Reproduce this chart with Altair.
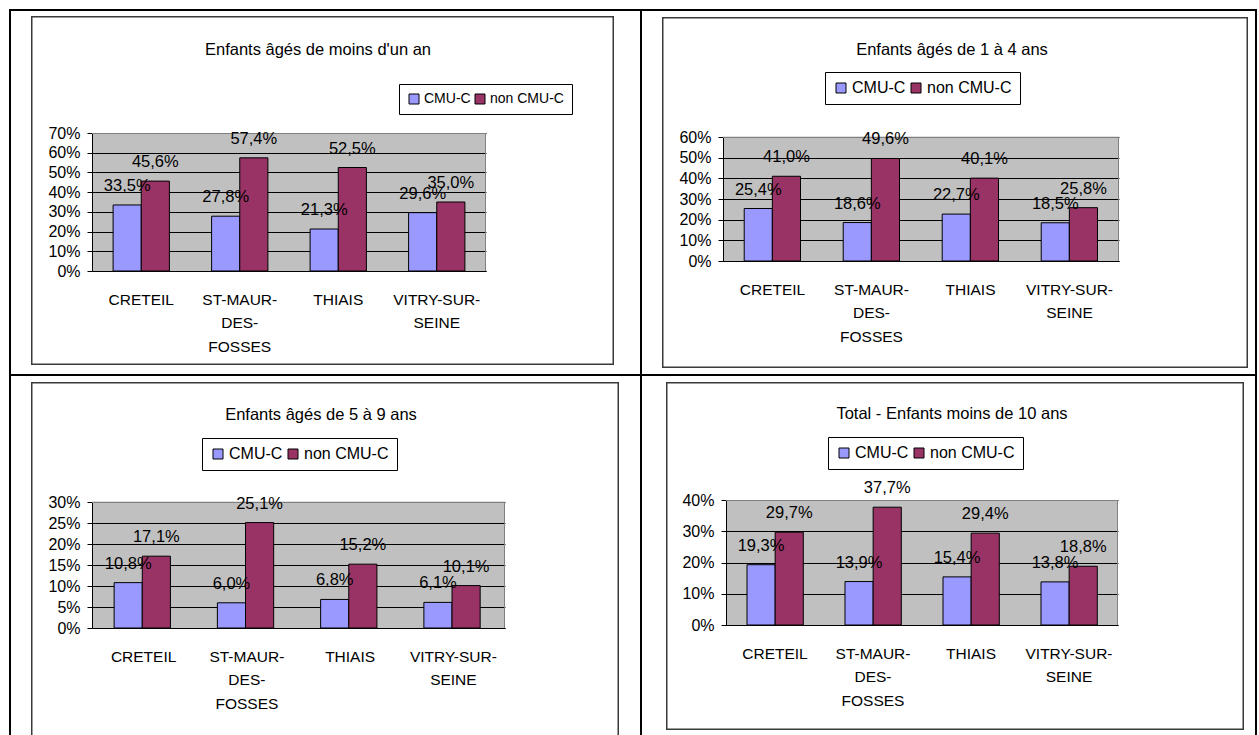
import altair as alt
import pandas as pd

FONT = "Liberation Sans"

# Communes and how their names wrap under the axis
categories = ["CRETEIL", "ST-MAUR-DES-FOSSES", "THIAIS", "VITRY-SUR-SEINE"]
category_lines = [["CRETEIL"], ["ST-MAUR-", "DES-", "FOSSES"], ["THIAIS"], ["VITRY-SUR-", "SEINE"]]

series = ["CMU-C", "non CMU-C"]
series_colors = ["#9999FF", "#993366"]

titles = [
    "Enfants âgés de moins d'un an",
    "Enfants âgés de 1 à 4 ans",
    "Enfants âgés de 5 à 9 ans",
    "Total - Enfants moins de 10 ans",
]

# Percentages per commune
cmu_c_under_1 = [33.5, 27.8, 21.3, 29.6]
non_cmu_c_under_1 = [45.6, 57.4, 52.5, 35.0]
cmu_c_1_to_4 = [25.4, 18.6, 22.7, 18.5]
non_cmu_c_1_to_4 = [41.0, 49.6, 40.1, 25.8]
cmu_c_5_to_9 = [10.8, 6.0, 6.8, 6.1]
non_cmu_c_5_to_9 = [17.1, 25.1, 15.2, 10.1]
cmu_c_total = [19.3, 13.9, 15.4, 13.8]
non_cmu_c_total = [29.7, 37.7, 29.4, 18.8]

cmu_values = [cmu_c_under_1, cmu_c_1_to_4, cmu_c_5_to_9, cmu_c_total]
non_values = [non_cmu_c_under_1, non_cmu_c_1_to_4, non_cmu_c_5_to_9, non_cmu_c_total]

y_max = [70, 60, 30, 40]
y_step = [10, 10, 5, 10]

# Page geometry of each table cell (pixels): plot rectangle, cell, borders
# (left, right, top, bottom widths), frame, title centre, legend corner
layouts = [
    dict(plot=(92, 133, 486, 271), cell=(9, 9, 641, 375),
         borders=(2, 1, 2, 1), frame=(31, 16, 614, 365), title=(318, 50),
         legend=(399, 84), legend_fs=14),
    dict(plot=(723, 137, 1119, 261), cell=(641, 9, 1257, 375),
         borders=(1, 2, 2, 1), frame=(662, 17, 1248, 368), title=(952, 50),
         legend=(825, 72), legend_fs=16),
    dict(plot=(92, 502, 505, 628), cell=(9, 375, 641, 735),
         borders=(2, 1, 1, 0), frame=(31, 382, 619, None), title=(321, 415),
         legend=(202, 438), legend_fs=16),
    dict(plot=(726, 500, 1118, 625), cell=(641, 375, 1257, 735),
         borders=(1, 2, 1, 0), frame=(666, 382, 1244, 730), title=(952, 414),
         legend=(828, 437), legend_fs=16),
]

label_expr = " : ".join(
    f"datum.label == '{c}' ? {lines!r}" for c, lines in zip(categories, category_lines)
) + " : datum.label"

one_row = alt.Chart(pd.DataFrame({"k": [0]}))


def panel(i, view_top):
    L = layouts[i]
    px0, py0, px1, py1 = L["plot"]
    ox, oy = px0, view_top
    w, h = px1 - px0, py1 - view_top
    inset = py0 - view_top  # plot top sits this far below the view top

    def block(x0, y0, x1, y1, color):
        return one_row.mark_rect(fill=color).encode(
            x=alt.value(x0 - ox), x2=alt.value(x1 - ox),
            y=alt.value(y0 - oy), y2=alt.value(y1 - oy),
        )

    layers = []
    # transparent cell extent
    cx0, cy0, cx1, cy1 = L["cell"]
    layers.append(one_row.mark_rect(fill="white", fillOpacity=0).encode(
        x=alt.value(cx0 - ox), x2=alt.value(cx1 - ox),
        y=alt.value(cy0 - oy), y2=alt.value(cy1 - oy)))
    # table borders
    bl, br, bt, bb = L["borders"]
    if bl:
        layers.append(block(cx0, cy0, cx0 + bl, cy1, "black"))
    if br:
        layers.append(block(cx1 - br, cy0, cx1, cy1, "black"))
    if bt:
        layers.append(block(cx0, cy0, cx1, cy0 + bt, "black"))
    if bb:
        layers.append(block(cx0, cy1 - bb, cx1, cy1, "black"))
    # chart frame
    fx0, fy0, fx1, fy1 = L["frame"]
    fw = 1.5
    fc = "#3a3a3a"
    bottom = fy1 if fy1 is not None else cy1
    layers.append(block(fx0, fy0, fx1, fy0 + fw, fc))
    layers.append(block(fx0, fy0, fx0 + fw, bottom, fc))
    layers.append(block(fx1 - fw, fy0, fx1, bottom, fc))
    if fy1 is not None:
        layers.append(block(fx0, fy1 - fw, fx1, fy1, fc))
    # white strip above a plot that starts lower than its neighbour
    if inset > 0:
        layers.append(block(px0 - 1, view_top, px1 + 1, py0 - 0.5, "white"))

    df = pd.DataFrame({
        "commune": categories * 2,
        "groupe": [series[0]] * 4 + [series[1]] * 4,
        "pct": cmu_values[i] + non_values[i],
    })
    base = alt.Chart(df)

    x = alt.X("commune:N", sort=categories,
              scale=alt.Scale(paddingInner=0.4286, paddingOuter=0.2143),
              axis=alt.Axis(title=None, labelAngle=0, ticks=False, tickSize=0,
                            labelExpr=label_expr, labelFontSize=15.5,
                            labelLineHeight=23.5, labelPadding=21,
                            labelBaseline="top", grid=False, domainColor="black",
                            labelFont=FONT, labelColor="black"))
    xo = alt.XOffset("groupe:N", sort=series,
                     scale=alt.Scale(paddingInner=0, paddingOuter=0))
    y = alt.Y("pct:Q",
              scale=alt.Scale(domain=[0, y_max[i]], nice=False, zero=True,
                              range=[h, inset]),
              axis=alt.Axis(title=None,
                            values=list(range(0, y_max[i] + 1, y_step[i])),
                            labelExpr="datum.value + '%'", labelFontSize=16,
                            labelFont=FONT, labelColor="black",
                            labelPadding=7, tickSize=5, tickColor="black",
                            domainColor="black", grid=True, gridColor="black",
                            gridWidth=1))
    lx, ly = L["legend"]
    color = alt.Color("groupe:N", sort=series,
                      scale=alt.Scale(domain=series, range=series_colors),
                      legend=alt.Legend(orient="none", legendX=lx - ox,
                                        legendY=ly - oy, direction="horizontal",
                                        title=None, symbolType="square",
                                        symbolSize=100, symbolStrokeColor="black",
                                        symbolStrokeWidth=1,
                                        labelFontSize=L["legend_fs"],
                                        labelFont=FONT, labelColor="black",
                                        strokeColor="black", fillColor="white",
                                        padding=8, columnPadding=2,
                                        labelOffset=3))

    bars = base.mark_bar(stroke="black", strokeWidth=1).encode(
        x=x, xOffset=xo, y=y, color=color)
    labels = base.transform_calculate(
        txt="replace(format(datum.pct, '.1f'), '.', ',') + '%'"
    ).mark_text(dy=-14, fontSize=16.5, font=FONT, baseline="alphabetic",
                align="center", color="black").encode(
        x=x, xOffset=xo, y=y, text="txt:N")

    # grey edges of the plot area
    top_edge = one_row.mark_rule(color="#808080", strokeWidth=1).encode(
        x=alt.value(0), x2=alt.value(w), y=alt.value(inset + 0.5))
    right_edge = one_row.mark_rule(color="#808080", strokeWidth=1).encode(
        x=alt.value(w - 0.5), y=alt.value(inset), y2=alt.value(h))

    tx, ty = L["title"]
    title = alt.Chart(pd.DataFrame({"titre": [titles[i]]})).mark_text(
        fontSize=16.5, font=FONT, align="center", baseline="middle",
        color="black").encode(
        x=alt.value(tx - ox), y=alt.value(ty - oy), text="titre:N")

    layers += [bars, top_edge, right_edge, labels, title]
    return alt.layer(*layers).properties(width=w, height=h)


def row(a, b):
    top = min(layouts[a]["plot"][1], layouts[b]["plot"][1])
    return alt.hconcat(panel(a, top), panel(b, top), spacing=0,
                       bounds="full").resolve_scale(
        color="independent").resolve_legend(color="independent")


chart = alt.vconcat(row(0, 1), row(2, 3), spacing=0, bounds="full").resolve_scale(
    color="independent").resolve_legend(color="independent").properties(
    padding={"left": 9, "top": 9, "right": 2, "bottom": 0},
    background="white",
).configure_view(strokeWidth=0, fill="#C0C0C0")

chart.save("out.html", embed_options={"renderer": "svg", "actions": False})
